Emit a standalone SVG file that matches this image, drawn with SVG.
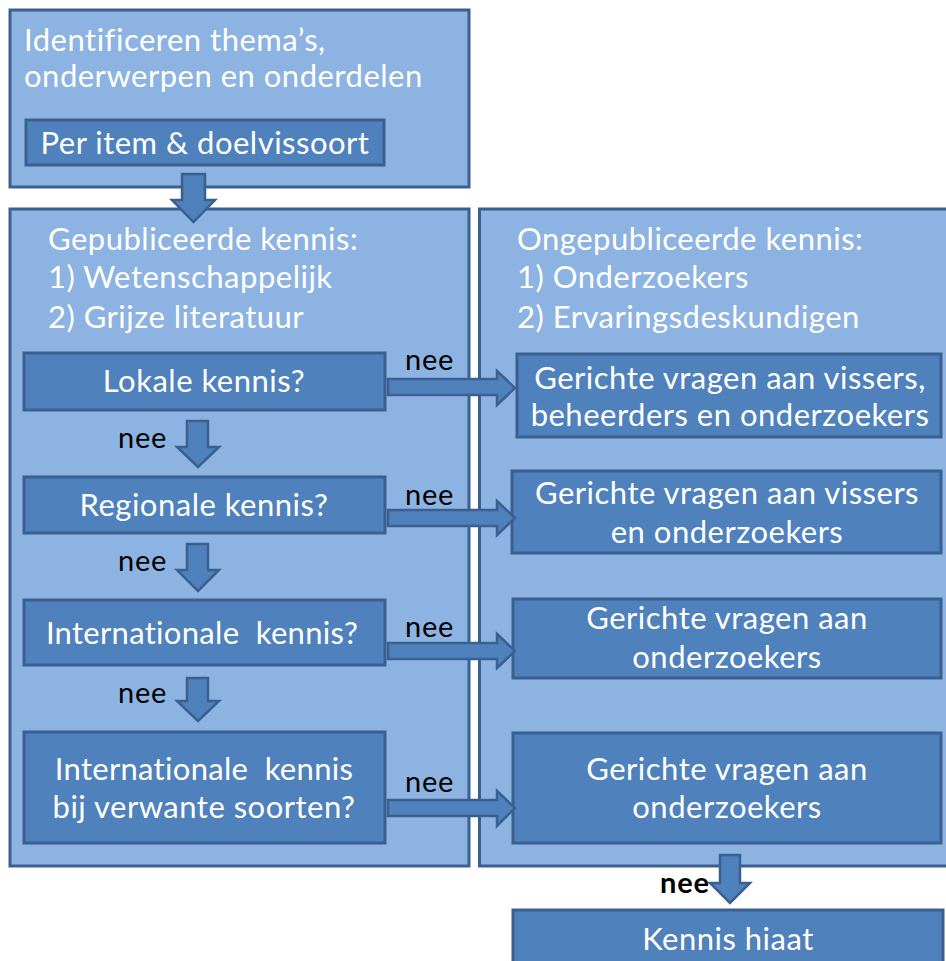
<svg xmlns="http://www.w3.org/2000/svg" width="946" height="961" viewBox="0 0 946 961">
  <style>
    .panel { fill: #8db3e2; stroke: #3b6090; stroke-width: 3; }
    .box { fill: #4f81bd; stroke: #3b6090; stroke-width: 3; }
    .arrow { fill: #4f81bd; stroke: #3b6090; stroke-width: 2.5; stroke-linejoin: miter; }
    text { font-family: Lato, "Liberation Sans", sans-serif; font-size: 31px; letter-spacing: 0.5px; fill: #ffffff; }
    .mid { text-anchor: middle; }
    .pre { white-space: pre; letter-spacing: 0.3px; }
    .lbl { fill: #000000; font-size: 29px; letter-spacing: 0.8px; }
  </style>

  <!-- Starting block -->
  <g id="start">
    <rect class="panel" x="10" y="10" width="459" height="177"/>
    <text x="24" y="51">Identificeren thema’s,</text>
    <text x="24" y="87">onderwerpen en onderdelen</text>
  </g>
  <g id="per-item">
    <rect class="box" x="26" y="120" width="358" height="45"/>
    <text class="mid" x="205" y="154">Per item &amp; doelvissoort</text>
  </g>

  <!-- Published knowledge panel -->
  <g id="published">
    <rect class="panel" x="10" y="209" width="459" height="657"/>
    <text x="48" y="250">Gepubliceerde kennis:</text>
    <text x="48" y="288">1) Wetenschappelijk</text>
    <text x="48" y="328">2) Grijze literatuur</text>
  </g>

  <!-- Unpublished knowledge panel -->
  <g id="unpublished">
    <rect class="panel" x="479.5" y="209" width="470" height="657"/>
    <text x="517" y="250">Ongepubliceerde kennis:</text>
    <text x="517" y="288">1) Onderzoekers</text>
    <text x="517" y="328">2) Ervaringsdeskundigen</text>
  </g>

  <g id="lokaal">
    <rect class="box" x="24" y="353" width="361" height="57"/>
    <text class="mid" x="204" y="392">Lokale kennis?</text>
  </g>
  <g id="regionaal">
    <rect class="box" x="24" y="477" width="361" height="56"/>
    <text class="mid" x="204" y="516">Regionale kennis?</text>
  </g>
  <g id="internationaal">
    <rect class="box" x="24" y="600" width="361" height="65"/>
    <text class="mid pre" x="202" y="644">Internationale  kennis?</text>
  </g>
  <g id="verwant">
    <rect class="box" x="24" y="732" width="361" height="111"/>
    <text class="mid pre" x="204" y="780">Internationale  kennis</text>
    <text class="mid" x="204" y="818">bij verwante soorten?</text>
  </g>

  <g id="vragen-1">
    <rect class="box" x="517" y="354" width="424" height="83"/>
    <text class="mid" x="730" y="389">Gerichte vragen aan vissers,</text>
    <text class="mid" x="730" y="426">beheerders en onderzoekers</text>
  </g>
  <g id="vragen-2">
    <rect class="box" x="512" y="471" width="429" height="82"/>
    <text class="mid" x="727" y="504">Gerichte vragen aan vissers</text>
    <text class="mid" x="727" y="543">en onderzoekers</text>
  </g>
  <g id="vragen-3">
    <rect class="box" x="513" y="599" width="428" height="79"/>
    <text class="mid" x="727" y="629">Gerichte vragen aan</text>
    <text class="mid" x="727" y="668">onderzoekers</text>
  </g>
  <g id="vragen-4">
    <rect class="box" x="513" y="733" width="428" height="110"/>
    <text class="mid" x="727" y="780">Gerichte vragen aan</text>
    <text class="mid" x="727" y="818">onderzoekers</text>
  </g>

  <g id="hiaat">
    <rect class="box" x="513" y="910" width="430" height="60"/>
    <text class="mid" x="728" y="950">Kennis hiaat</text>
  </g>

  <!-- Block arrows and their labels -->
  <g id="connectors">
    <!-- down arrows -->
    <polygon class="arrow" points="182,174 205,174 205,200 215,200 193.5,222 172,200 182,200"/>
    <polygon class="arrow" points="187,421 208,421 208,447 219,447 198,467 177,447 187,447"/>
    <polygon class="arrow" points="187,544 208,544 208,570 219,570 198,591 177,570 187,570"/>
    <polygon class="arrow" points="187,678 208,678 208,701 219,701 198,721 177,701 187,701"/>
    <polygon class="arrow" points="720,855 740,855 740,883 750,883 730,903 710,883 720,883"/>
    <!-- right arrows -->
    <polygon class="arrow" points="388,379 497,379 497,371 515,388 497,405 497,395 388,395"/>
    <polygon class="arrow" points="388,510 497,510 497,501 515,518 497,535 497,526 388,526"/>
    <polygon class="arrow" points="388,643 497,643 497,634 515,651 497,668 497,659 388,659"/>
    <polygon class="arrow" points="388,800 497,800 497,791 515,808 497,826 497,816 388,816"/>

    <text class="lbl" x="405" y="370">nee</text>
    <text class="lbl" x="405" y="505">nee</text>
    <text class="lbl" x="405" y="637">nee</text>
    <text class="lbl" x="405" y="792">nee</text>
    <text class="lbl" x="118" y="448">nee</text>
    <text class="lbl" x="118" y="571">nee</text>
    <text class="lbl" x="118" y="703">nee</text>
    <text class="lbl" x="660" y="893" font-weight="bold" letter-spacing="0">nee</text>
  </g>
</svg>
